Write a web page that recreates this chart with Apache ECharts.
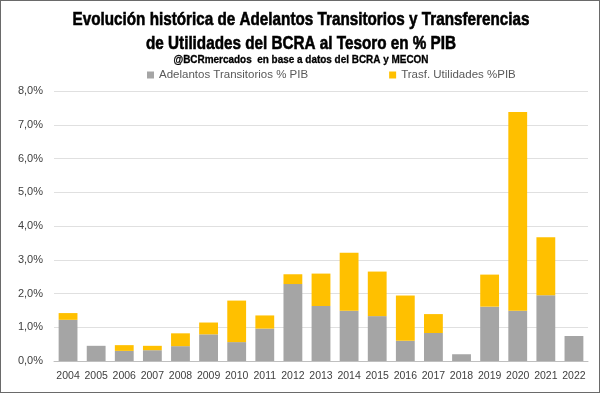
<!DOCTYPE html>
<html><head><meta charset="utf-8">
<script src="https://cdn.jsdelivr.net/npm/echarts@6/dist/echarts.min.js"></script>
<style>html,body{margin:0;padding:0;background:#fff}
#c{width:600px;height:393px;box-sizing:border-box;border:1px solid #6a6a6a}</style>
</head><body><div id="c"></div>
<script>
const years = ['2004','2005','2006','2007','2008','2009','2010','2011','2012','2013','2014','2015','2016','2017','2018','2019','2020','2021','2022'];
const adelantos = [1.22,0.45,0.30,0.32,0.44,0.79,0.56,0.96,2.28,1.63,1.49,1.33,0.60,0.83,0.20,1.61,1.49,1.95,0.74];
const utilidades = [0.20,0,0.17,0.13,0.38,0.35,1.23,0.39,0.29,0.96,1.72,1.32,1.34,0.56,0,0.95,5.89,1.72,0];
const seriesNames = ['Adelantos Transitorios % PIB','Trasf. Utilidades %PIB'];
const titleLines = ['Evolución histórica de Adelantos Transitorios y Transferencias','de Utilidades del BCRA al Tesoro en % PIB'];
const subtitle = '@BCRmercados  en base a datos del BCRA y MECON';

const ctx = document.createElement('canvas').getContext('2d');
function fitText(text, font, width, x, y, lw){
  ctx.font = font;
  const w = ctx.measureText(text).width;
  return {type:'text',x:x,y:y,scaleX:width/w,
    style:{text:text,textAlign:'center',textVerticalAlign:'middle',font:font,fill:'#000',stroke:'#000',lineWidth:lw}};
}
const tf = 'bold 19px "Liberation Sans", Arial, sans-serif';
const sf = 'bold 10.5px "Liberation Sans", Arial, sans-serif';

const chart = echarts.init(document.getElementById('c'));
chart.setOption({
  animation:false,
  graphic:[
    fitText(titleLines[0], tf, 457, 300, 19, 0.6),
    fitText(titleLines[1], tf, 310, 300, 43, 0.6),
    fitText(subtitle, sf, 255, 300, 59, 0.3)
  ],
  legend:{left:146,top:68,padding:0,itemGap:81,itemWidth:7,itemHeight:7,icon:'rect',
    textStyle:{color:'#595959',fontSize:11.5,fontFamily:'Liberation Sans'},data:seriesNames},
  grid:{left:53,right:11,top:90,bottom:31},
  xAxis:{type:'category',data:years,axisTick:{show:false},
    axisLine:{lineStyle:{color:'#bfbfbf'}},
    axisLabel:{color:'#404040',fontSize:10.5,fontFamily:'Liberation Sans',margin:10,interval:0}},
  yAxis:{type:'value',min:0,max:8,interval:1,
    axisLabel:{color:'#404040',fontSize:11,fontFamily:'Liberation Sans',margin:11,
      formatter:v=>v.toFixed(1).replace('.',',')+'%'},
    splitLine:{lineStyle:{color:'#e0e0e0'}}},
  series:[
    {name:seriesNames[0],type:'bar',stack:'a',data:adelantos,barCategoryGap:'33%',
      itemStyle:{color:'#a5a5a5'}},
    {name:seriesNames[1],type:'bar',stack:'a',data:utilidades,
      itemStyle:{color:'#ffc000'}}
  ]
});
</script></body></html>
